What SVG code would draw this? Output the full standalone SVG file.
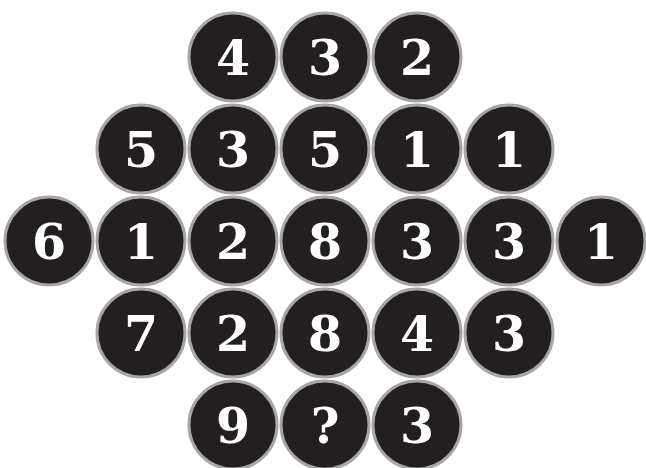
<svg xmlns="http://www.w3.org/2000/svg" width="646" height="468" viewBox="0 0 646 468">
<style>
.c{fill:#231f20;stroke:#a6a6a6;stroke-width:3}
.t{fill:#fff;font-family:"DejaVu Serif","Liberation Serif",serif;font-weight:bold;font-size:49px;text-anchor:middle}
</style>
<rect width="646" height="468" fill="#fff"/>
<g id="r1">
<g id="n1"><circle class="c" cx="233" cy="57" r="44"/><text class="t" x="233" y="75">4</text></g>
<g id="n2"><circle class="c" cx="325" cy="57" r="44"/><text class="t" x="325" y="75">3</text></g>
<g id="n3"><circle class="c" cx="417" cy="57" r="44"/><text class="t" x="417" y="75">2</text></g>
</g>
<g id="r2">
<g id="n4"><circle class="c" cx="141" cy="149" r="44"/><text class="t" x="141" y="167">5</text></g>
<g id="n5"><circle class="c" cx="233" cy="149" r="44"/><text class="t" x="233" y="167">3</text></g>
<g id="n6"><circle class="c" cx="325" cy="149" r="44"/><text class="t" x="325" y="167">5</text></g>
<g id="n7"><circle class="c" cx="417" cy="149" r="44"/><text class="t" x="417" y="167">1</text></g>
<g id="n8"><circle class="c" cx="509" cy="149" r="44"/><text class="t" x="509" y="167">1</text></g>
</g>
<g id="r3">
<g id="n9"><circle class="c" cx="49" cy="241" r="44"/><text class="t" x="49" y="259">6</text></g>
<g id="n10"><circle class="c" cx="141" cy="241" r="44"/><text class="t" x="141" y="259">1</text></g>
<g id="n11"><circle class="c" cx="233" cy="241" r="44"/><text class="t" x="233" y="259">2</text></g>
<g id="n12"><circle class="c" cx="325" cy="241" r="44"/><text class="t" x="325" y="259">8</text></g>
<g id="n13"><circle class="c" cx="417" cy="241" r="44"/><text class="t" x="417" y="259">3</text></g>
<g id="n14"><circle class="c" cx="509" cy="241" r="44"/><text class="t" x="509" y="259">3</text></g>
<g id="n15"><circle class="c" cx="601" cy="241" r="44"/><text class="t" x="601" y="259">1</text></g>
</g>
<g id="r4">
<g id="n16"><circle class="c" cx="141" cy="333" r="44"/><text class="t" x="141" y="351">7</text></g>
<g id="n17"><circle class="c" cx="233" cy="333" r="44"/><text class="t" x="233" y="351">2</text></g>
<g id="n18"><circle class="c" cx="325" cy="333" r="44"/><text class="t" x="325" y="351">8</text></g>
<g id="n19"><circle class="c" cx="417" cy="333" r="44"/><text class="t" x="417" y="351">4</text></g>
<g id="n20"><circle class="c" cx="509" cy="333" r="44"/><text class="t" x="509" y="351">3</text></g>
</g>
<g id="r5">
<g id="n21"><circle class="c" cx="233" cy="425" r="44"/><text class="t" x="233" y="443">9</text></g>
<g id="n22"><circle class="c" cx="325" cy="425" r="44"/><text class="t" x="325" y="443">?</text></g>
<g id="n23"><circle class="c" cx="417" cy="425" r="44"/><text class="t" x="417" y="443">3</text></g>
</g>
<g id="connectors"/>
</svg>
